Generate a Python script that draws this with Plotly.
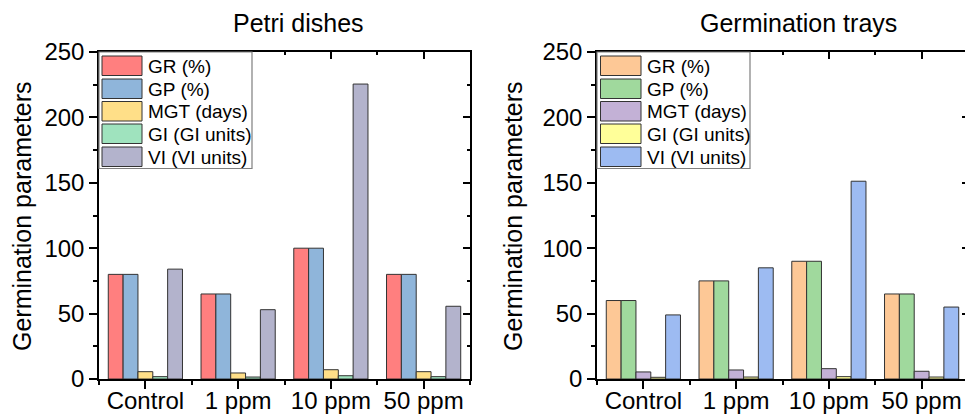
import plotly.graph_objects as go

W, H = 965, 417

categories = ["Control", "1 ppm", "10 ppm", "50 ppm"]
series_names = ["GR (%)", "GP (%)", "MGT (days)", "GI (GI units)", "VI (VI units)"]

# Petri dishes
petri_GR = [80, 65, 100, 80]
petri_GP = [80, 65, 100, 80]
petri_MGT = [5.6, 4.6, 7.1, 5.6]
petri_GI = [1.8, 1.5, 2.5, 1.8]
petri_VI = [84, 53, 225.5, 55.6]

# Germination trays
tray_GR = [60, 75, 90, 65]
tray_GP = [60, 75, 90, 65]
tray_MGT = [5.4, 6.9, 7.9, 5.9]
tray_GI = [1.3, 1.5, 1.8, 1.5]
tray_VI = [49, 85, 151.2, 55]

y_ticks = [0, 50, 100, 150, 200, 250]

petri_colors = ["#FF7F7F", "#8FB5DA", "#FFDF88", "#9FE3BE", "#B3B3CC"]
tray_colors = ["#FDC896", "#A0D99D", "#C3B1D6", "#FFFF99", "#9DBBF2"]

petri_series = [petri_GR, petri_GP, petri_MGT, petri_GI, petri_VI]
tray_series = [tray_GR, tray_GP, tray_MGT, tray_GI, tray_VI]

xpos = list(range(len(categories)))

def px(x):
    return x / W

def py(y):
    return 1 - y / H

FONT = "Liberation Sans, Arial, sans-serif"

fig = go.Figure()

for vals, name, col in zip(petri_series, series_names, petri_colors):
    fig.add_trace(go.Bar(x=xpos, y=vals, name=name, marker=dict(color=col, line=dict(color="#333333", width=1)),
                         xaxis="x", yaxis="y", showlegend=False, offsetgroup=name))
for vals, name, col in zip(tray_series, series_names, tray_colors):
    fig.add_trace(go.Bar(x=xpos, y=vals, name=name, marker=dict(color=col, line=dict(color="#333333", width=1)),
                         xaxis="x2", yaxis="y2", showlegend=False, offsetgroup=name))

ydom = [py(379), py(52)]
xdom1 = [px(99), px(470)]
xdom2 = [px(597), 1.0]
r2_end = -0.5 + (W - 597) / 371 * 4

tickfont = dict(family=FONT, size=24, color="black")

def xaxis_common(rng, dom, anchor):
    return dict(domain=dom, range=rng, anchor=anchor, tickmode="array", tickvals=xpos, ticktext=categories,
                ticks="outside", ticklen=8, tickwidth=1.5, tickcolor="black", automargin=False,
                ticklabelstandoff=-9,
                showline=True, linecolor="black", linewidth=2, mirror=False,
                showgrid=False, zeroline=False, tickfont=tickfont,
                minor=dict(tickmode="array", tickvals=[-0.5, 0.5, 1.5, 2.5, 3.5], ticks="outside", ticklen=4,
                           tickwidth=1.5, tickcolor="black", showgrid=False))

def yaxis_common(dom, anchor):
    return dict(domain=dom, range=[0, 250], anchor=anchor, tickmode="array", tickvals=y_ticks,
                ticks="outside", ticklen=8, tickwidth=1.5, tickcolor="black", automargin=False,
                showline=True, linecolor="black", linewidth=1.5, mirror=False,
                showgrid=False, zeroline=False, tickfont=tickfont,
                minor=dict(tickmode="linear", tick0=0, dtick=25, ticks="outside", ticklen=4, tickwidth=1.5,
                           tickcolor="black", showgrid=False))

def top_axis(rng, dom, over, anchor):
    return dict(domain=dom, range=rng, overlaying=over, anchor=anchor, side="top", tickmode="array",
                tickvals=xpos, ticks="inside", ticklen=7, tickwidth=1.5, tickcolor="black", automargin=False,
                showticklabels=False, showline=True, linecolor="black", linewidth=1.5, showgrid=False,
                zeroline=False,
                minor=dict(tickmode="array", tickvals=[-0.5, 0.5, 1.5, 2.5, 3.5], ticks="inside", ticklen=3.5,
                           tickwidth=1.5, tickcolor="black", showgrid=False))

def right_axis(dom, over, anchor, showline=True, ticklen=7, minor=True):
    d = dict(domain=dom, range=[0, 250], overlaying=over, anchor=anchor, side="right", tickmode="array",
             tickvals=y_ticks, ticks="inside", ticklen=ticklen, tickwidth=1.5, tickcolor="black", automargin=False,
             showticklabels=False, showline=showline, linecolor="black", linewidth=1.5, showgrid=False,
             zeroline=False)
    if minor:
        d["minor"] = dict(tickmode="linear", tick0=0, dtick=25, ticks="inside", ticklen=3.5, tickwidth=1.5,
                          tickcolor="black", showgrid=False)
    return d

fig.add_trace(go.Scatter(x=[None], y=[None], xaxis="x3", yaxis="y3", showlegend=False, hoverinfo="skip"))
fig.add_trace(go.Scatter(x=[None], y=[None], xaxis="x4", yaxis="y4", showlegend=False, hoverinfo="skip"))

fig.update_layout(
    width=W, height=H, margin=dict(l=0, r=0, t=0, b=0, autoexpand=False),
    paper_bgcolor="white", plot_bgcolor="white",
    barmode="group", bargap=0.2, bargroupgap=0,
    font=dict(family=FONT, color="black"),
    xaxis=xaxis_common([-0.5, 3.5], xdom1, "y"),
    yaxis=yaxis_common(ydom, "x"),
    xaxis2=xaxis_common([-0.5, r2_end], xdom2, "y2"),
    yaxis2=yaxis_common(ydom, "x2"),
    xaxis3=top_axis([-0.5, 3.5], xdom1, "x", "y3"),
    yaxis3=right_axis(ydom, "y", "x3"),
    xaxis4=top_axis([-0.5, r2_end], xdom2, "x2", "y4"),
    yaxis4=right_axis(ydom, "y2", "x4", showline=False, ticklen=3, minor=False),
)

shapes = []
annotations = []

annotations.append(dict(text="Petri dishes", x=px(298), y=py(23), xref="paper", yref="paper",
                        showarrow=False, font=dict(family=FONT, size=25, color="black"), xanchor="center", yanchor="middle"))
annotations.append(dict(text="Germination trays", x=px(798), y=py(23), xref="paper", yref="paper",
                        showarrow=False, font=dict(family=FONT, size=25, color="black"), xanchor="center", yanchor="middle"))
for xc in (22, 513):
    annotations.append(dict(text="Germination parameters", x=px(xc), y=py(216), xref="paper", yref="paper",
                            showarrow=False, textangle=-90, font=dict(family=FONT, size=25, color="black"),
                            xanchor="center", yanchor="middle"))

def add_legend(box_x0, box_x1, sw_x0, sw_x1, txt_x, colors):
    shapes.append(dict(type="rect", xref="paper", yref="paper", x0=px(box_x0), x1=px(box_x1),
                       y0=py(168.5), y1=py(52), line=dict(color="#7f7f7f", width=1.2), fillcolor="white", layer="above"))
    row_tops = [56, 79, 101.5, 124, 147]
    for top, name, col in zip(row_tops, series_names, colors):
        shapes.append(dict(type="rect", xref="paper", yref="paper", x0=px(sw_x0), x1=px(sw_x1),
                           y0=py(top + 19.5), y1=py(top), line=dict(color="#333333", width=1),
                           fillcolor=col, layer="above"))
        annotations.append(dict(text=name, x=px(txt_x), y=py(top + 10), xref="paper", yref="paper",
                                showarrow=False, xanchor="left", yanchor="middle",
                                font=dict(family=FONT, size=19, color="black")))

add_legend(99, 252, 102, 142, 146, petri_colors)
add_legend(597, 750, 600.5, 641, 645, tray_colors)

fig.update_layout(shapes=shapes, annotations=annotations)

fig.write_html("out.html")
